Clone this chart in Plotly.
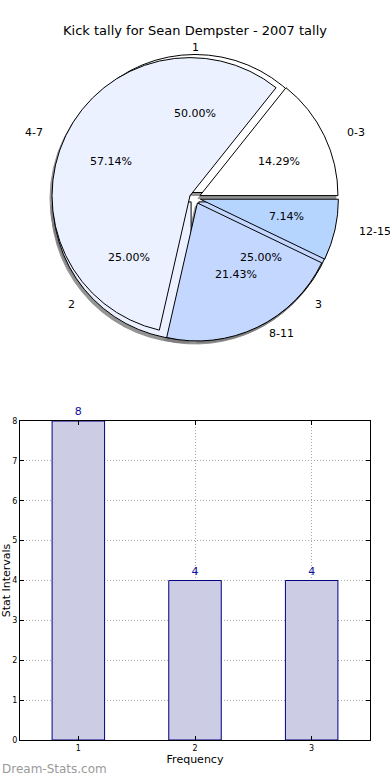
import math
import plotly.graph_objects as go

# ---------------- data ----------------
title_text = "Kick tally for Sean Dempster - 2007 tally"

freq_labels = ["1", "2", "3"]
freq_values = [8, 4, 4]

interval_labels = ["0-3", "4-7", "8-11", "12-15"]
interval_values = [2, 8, 3, 1]
interval_colors = ["#FFFFFF", "#EBF1FF", "#C4D7FF", "#B5D5FF"]
freq_colors = ["#FFFFFF", "#EBF1FF", "#C4D7FF"]

bar_x = [1, 2, 3]
bar_y = [8, 4, 4]

# ---------------- layout constants ----------------
W, H = 390, 780
PULL = 0.04
R = 138            # drawn pie radius in px
RX, RY = 146, 132  # text placement radii (reference pie is slightly elliptical)
CX, CY = 195, 198  # pie centre (px from top-left)
half = R * (1 + PULL)

def pie_domain(dx=0, dy=0):
    return dict(x=[(CX + dx - half) / W, (CX + dx + half) / W],
                y=[1 - (CY + dy + half) / H, 1 - (CY + dy - half) / H])

fig = go.Figure()

def add_pie(labels, values, colors, dom, line_color="black", opacity=1.0):
    # start first slice at 3 o'clock going counterclockwise (matplotlib default)
    rot = 90 - 360.0 * values[0] / sum(values)
    fig.add_trace(go.Pie(
        labels=labels, values=values, sort=False, direction="counterclockwise",
        rotation=rot, pull=[PULL] * len(values), textinfo="none",
        marker=dict(colors=colors, line=dict(color=line_color, width=1)),
        domain=dom, showlegend=False, opacity=opacity, hoverinfo="label+percent"))

# shadows
add_pie(freq_labels, freq_values, ["#7A7A7A"] * 3, pie_domain(-2, 3), "#7A7A7A", 0.8)
add_pie(interval_labels, interval_values, ["#7A7A7A"] * 4, pie_domain(-2, 3), "#7A7A7A", 0.8)
# pies
add_pie(freq_labels, freq_values, freq_colors, pie_domain())
add_pie(interval_labels, interval_values, interval_colors, pie_domain())

annotations = []

def pie_texts(labels, values):
    total = sum(values)
    start = 0.0
    for lab, v in zip(labels, values):
        frac = v / total
        mid = math.radians((start + frac / 2) * 360)
        start += frac
        ox = PULL * RX * math.cos(mid)
        oy = PULL * RY * math.sin(mid)
        px = CX + ox + 0.6 * RX * math.cos(mid)
        py = CY - oy - 0.6 * RY * math.sin(mid)
        annotations.append(dict(x=px / W, y=1 - py / H, xref="paper", yref="paper",
                                xanchor="center", yanchor="middle",
                                text="%.2f%%" % (frac * 100), showarrow=False,
                                font=dict(size=11, color="black")))
        lx = CX + ox + 1.1 * RX * math.cos(mid)
        ly = CY - oy - 1.1 * RY * math.sin(mid)
        c = math.cos(mid)
        xanchor = "left" if c > 0.01 else ("right" if c < -0.01 else "center")
        annotations.append(dict(x=lx / W, y=1 - ly / H, xref="paper", yref="paper",
                                text=lab, showarrow=False, xanchor=xanchor, yanchor="middle",
                                font=dict(size=11, color="black")))

pie_texts(freq_labels, freq_values)
pie_texts(interval_labels, interval_values)

annotations.append(dict(x=0, y=0.002, xref="paper", yref="paper", xanchor="left",
                        yanchor="bottom", text="Dream-Stats.com", showarrow=False,
                        font=dict(size=12, color="#9A9A9A", family="DejaVu Sans")))

# ---------------- bar chart ----------------
fig.add_trace(go.Bar(
    x=bar_x, y=bar_y, width=0.45, text=[str(v) for v in bar_y],
    textposition="outside", cliponaxis=False,
    textfont=dict(size=11, color="#1010A0"),
    marker=dict(color="#CCCCE5", line=dict(color="#000080", width=1)),
    showlegend=False, xaxis="x", yaxis="y"))

axis_common = dict(showline=True, linecolor="black", linewidth=1, mirror="ticks",
                   ticks="inside", ticklen=4, tickcolor="black",
                   showgrid=True, gridcolor="#A8A8A8", griddash="1px,2px", gridwidth=1,
                   zeroline=False, tickfont=dict(size=8, color="black"),
                   layer="above traces")

fig.update_layout(
    width=W, height=H, margin=dict(l=0, r=0, t=0, b=0),
    paper_bgcolor="white", plot_bgcolor="white",
    font=dict(family="DejaVu Sans", color="black"),
    title=dict(text=title_text, x=0.5, xanchor="center", y=1 - 30 / H, yanchor="middle",
               font=dict(size=13)),
    xaxis=dict(domain=[20 / W, 370 / W], range=[0.5, 3.5], tickvals=bar_x,
               title=dict(text="Frequency", font=dict(size=11), standoff=2),
               automargin=False, **axis_common),
    yaxis=dict(domain=[40 / H, 359 / H], range=[0, 8], dtick=1,
               title=dict(text="Stat Intervals", font=dict(size=11), standoff=15),
               automargin=False, **axis_common),
    annotations=annotations,
)

fig.write_html("out.html", config={"displayModeBar": False},
               post_script="document.body.style.margin='0px';")
